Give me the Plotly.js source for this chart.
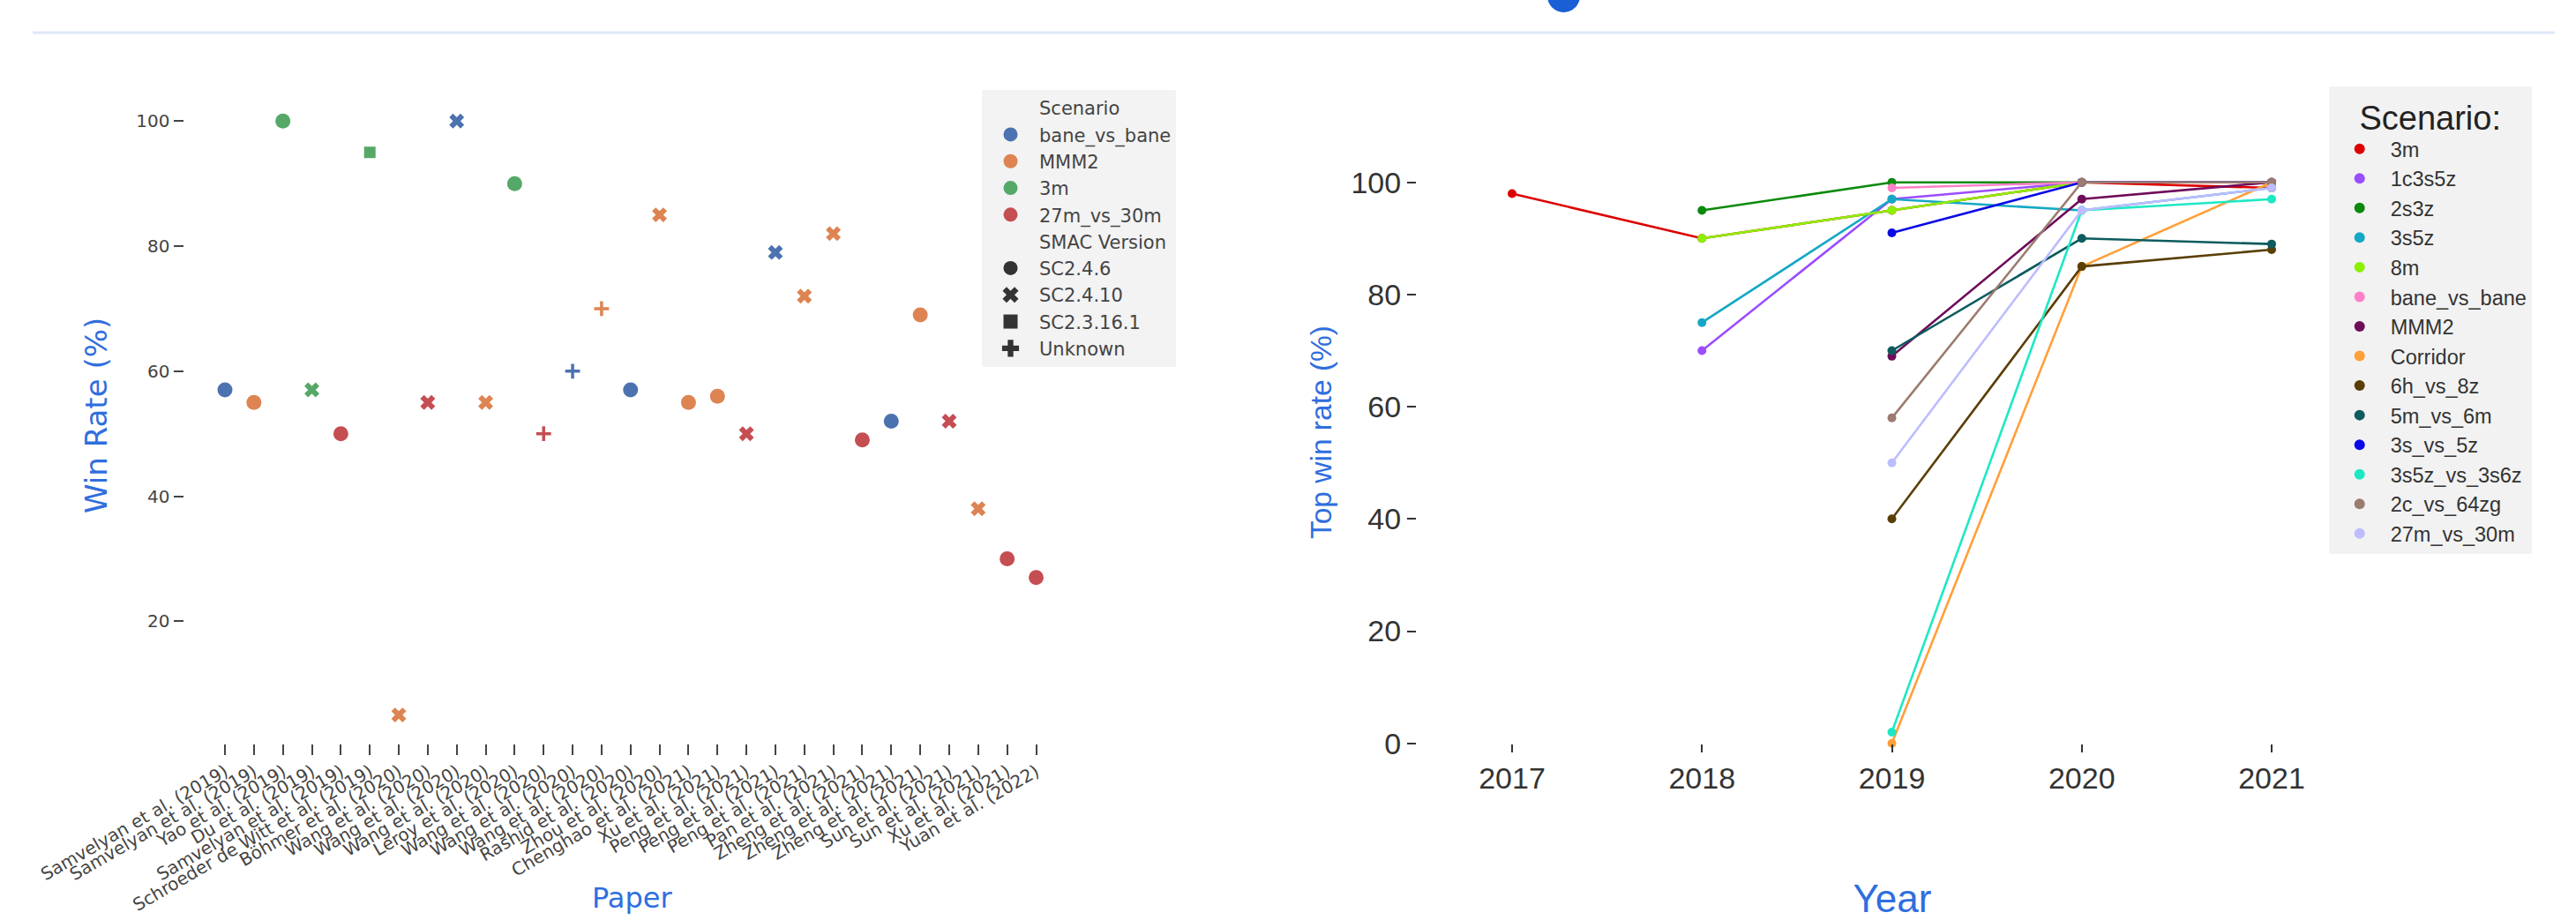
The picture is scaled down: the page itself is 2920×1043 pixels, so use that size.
<!DOCTYPE html>
<html>
<head>
<meta charset="utf-8">
<script src="https://cdn.plot.ly/plotly-3.0.1.min.js"></script>
<style>
  html, body { margin: 0; padding: 0; background: #ffffff; }
  #chart { width: 2920px; height: 1043px; }
</style>
</head>
<body>
<div id="chart"></div>
<script>
// ---------- Left panel: win rate reported by each paper ----------
const papers = [
  'Samvelyan et al. (2019)', 'Samvelyan et al. (2019)', 'Yao et al. (2019)', 'Du et al. (2019)',
  'Samvelyan et al. (2019)', 'Schroeder de Witt et al. (2019)', 'Böhmer et al. (2020)',
  'Wang et al. (2020)', 'Wang et al. (2020)', 'Wang et al. (2020)', 'Leroy et al. (2020)',
  'Wang et al. (2020)', 'Wang et al. (2020)', 'Wang et al. (2020)', 'Rashid et al. (2020)',
  'Zhou et al. (2020)', 'Chenghao et al. (2021)', 'Xu et al. (2021)', 'Peng et al. (2021)',
  'Peng et al. (2021)', 'Peng et al. (2021)', 'Pan et al. (2021)', 'Zheng et al. (2021)',
  'Zheng et al. (2021)', 'Zheng et al. (2021)', 'Sun et al. (2021)', 'Sun et al. (2021)',
  'Xu et al. (2021)', 'Yuan et al. (2022)'
];
const winRates = [57, 55, 100, 57, 50, 95, 5, 55, 100, 55, 90, 50, 60, 70, 57, 85, 55, 56, 50, 79,
                  72, 82, 49, 52, 69, 52, 38, 30, 27];
const paperScenarios = [
  'bane_vs_bane', 'MMM2', '3m', '3m', '27m_vs_30m', '3m', 'MMM2', '27m_vs_30m', 'bane_vs_bane', 'MMM2',
  '3m', '27m_vs_30m', 'bane_vs_bane', 'MMM2', 'bane_vs_bane', 'MMM2', 'MMM2', 'MMM2', '27m_vs_30m',
  'bane_vs_bane', 'MMM2', 'MMM2', '27m_vs_30m', 'bane_vs_bane', 'MMM2', '27m_vs_30m', 'MMM2',
  '27m_vs_30m', '27m_vs_30m'
];
const smacVersions = [
  'SC2.4.6', 'SC2.4.6', 'SC2.4.6', 'SC2.4.10', 'SC2.4.6', 'SC2.3.16.1', 'SC2.4.10', 'SC2.4.10',
  'SC2.4.10', 'SC2.4.10', 'SC2.4.6', 'Unknown', 'Unknown', 'Unknown', 'SC2.4.6', 'SC2.4.10',
  'SC2.4.6', 'SC2.4.6', 'SC2.4.10', 'SC2.4.10', 'SC2.4.10', 'SC2.4.10', 'SC2.4.6', 'SC2.4.6',
  'SC2.4.6', 'SC2.4.10', 'SC2.4.10', 'SC2.4.6', 'SC2.4.6'
];

const scenarioNames  = ['bane_vs_bane', 'MMM2', '3m', '27m_vs_30m'];
const scenarioColors = ['#4c72b0', '#dd8452', '#55a868', '#c44e52'];
const versionNames   = ['SC2.4.6', 'SC2.4.10', 'SC2.3.16.1', 'Unknown'];
const versionSymbols = ['circle', 'x', 'square', 'cross-thin'];
const versionLegendSymbols = ['circle', 'x', 'square', 'cross'];
const versionSizes   = [17, 15, 13, 12];
const leftTicks = [20, 40, 60, 80, 100];

// ---------- Right panel: top win rate per scenario and year ----------
const years = [2017, 2018, 2019, 2020, 2021];
const topScenarios = ['3m', '1c3s5z', '2s3z', '3s5z', '8m', 'bane_vs_bane', 'MMM2', 'Corridor',
                      '6h_vs_8z', '5m_vs_6m', '3s_vs_5z', '3s5z_vs_3s6z', '2c_vs_64zg', '27m_vs_30m'];
const topColors = ['#dd0000', '#9b4dff', '#0a8a0a', '#15a8c5', '#8cf000', '#ff80c8', '#6e0c5a',
                   '#ff9f38', '#5a3f05', '#0d5b5e', '#0a0ae6', '#1ee8c4', '#9c7b70', '#bdbcff'];
const top3m          = [98, 90, 95, 100, 99];
const top1c3s5z      = [null, 70, 97, 100, 100];
const top2s3z        = [null, 95, 100, 100, 100];
const top3s5z        = [null, 75, 97, 95, 99];
const top8m          = [null, 90, 95, 100, 100];
const topBane        = [null, null, 99, 100, 100];
const topMMM2        = [null, null, 69, 97, 100];
const topCorridor    = [null, null, 0, 85, 100];
const top6hvs8z      = [null, null, 40, 85, 88];
const top5mvs6m      = [null, null, 70, 90, 89];
const top3svs5z      = [null, null, 91, 100, 100];
const top3s5zvs3s6z  = [null, null, 2, 95, 97];
const top2cvs64zg    = [null, null, 58, 100, 100];
const top27mvs30m    = [null, null, 50, 95, 99];
const topSeries = [top3m, top1c3s5z, top2s3z, top3s5z, top8m, topBane, topMMM2, topCorridor,
                   top6hvs8z, top5mvs6m, top3svs5z, top3s5zvs3s6z, top2cvs64zg, top27mvs30m];
const rightTicks = [0, 20, 40, 60, 80, 100];

// ---------- page geometry (pixels) ----------
const W = 2920, H = 1043;
const fx = px => px / W;
const fy = py => 1 - py / H;
// value at pixel p for a linear scale passing through (p0, v0) and (p1, v1)
const lin = (p, p0, v0, p1, v1) => v0 + (p - p0) * (v1 - v0) / (p1 - p0);

const LP = { left: 208.5, right: 1223.5, top: 99, bottom: 842.8 };
const RP = { left: 1606, right: 2684, top: 137.3, bottom: 842.7 };
const lxr = [lin(LP.left, 255, 0, 1174.5, 28), lin(LP.right, 255, 0, 1174.5, 28)];
const lyr = [lin(LP.bottom, 137.3, 100, 704.3, 20), lin(LP.top, 137.3, 100, 704.3, 20)];
const rxr = [lin(RP.left, 1714, 2017, 2575, 2021), lin(RP.right, 1714, 2017, 2575, 2021)];
const ryr = [lin(RP.bottom, 206.7, 100, 842.7, 0), lin(RP.top, 206.7, 100, 842.7, 0)];

const BLUE = '#2f6ede';
const LFONT = 'DejaVu Sans';
const RFONT = 'Liberation Sans, Arial, sans-serif';

const traces = [];

// scatter of every paper's result
const pointColors = paperScenarios.map(s => scenarioColors[scenarioNames.indexOf(s)]);
traces.push({
  type: 'scatter', mode: 'markers', xaxis: 'x', yaxis: 'y', showlegend: false, cliponaxis: false,
  x: papers.map((_, i) => i), y: winRates, hoverinfo: 'skip',
  marker: {
    color: pointColors, opacity: 1,
    symbol: smacVersions.map(v => versionSymbols[versionNames.indexOf(v)]),
    size: smacVersions.map(v => versionSizes[versionNames.indexOf(v)]),
    line: { color: pointColors, width: smacVersions.map(v => v === 'Unknown' ? 3.5 : 0) }
  }
});

// legend entries for the left panel
const legendEntry = (name, color, symbol) => ({
  type: 'scatter', mode: 'markers', xaxis: 'x', yaxis: 'y', legend: 'legend',
  x: [null], y: [null], name: name, showlegend: true,
  marker: { color: color, symbol: symbol, size: 16, opacity: 1, line: { width: 0 } }
});
traces.push(legendEntry('Scenario', 'rgba(0,0,0,0)', 'circle'));
scenarioNames.forEach((s, i) => traces.push(legendEntry(s, scenarioColors[i], 'circle')));
traces.push(legendEntry('SMAC Version', 'rgba(0,0,0,0)', 'circle'));
versionNames.forEach((v, i) => traces.push(legendEntry(v, '#333333', versionLegendSymbols[i])));

// lines of the right panel
topScenarios.forEach((s, i) => {
  traces.push({
    type: 'scatter', mode: 'lines+markers', xaxis: 'x2', yaxis: 'y2', showlegend: false,
    cliponaxis: false, x: years, y: topSeries[i], name: s, hoverinfo: 'skip',
    line: { color: topColors[i], width: 2.6 },
    marker: { color: topColors[i], size: 10 }
  });
});
topScenarios.forEach((s, i) => {
  traces.push({
    type: 'scatter', mode: 'markers', xaxis: 'x2', yaxis: 'y2', legend: 'legend2',
    x: [null], y: [null], name: s, showlegend: true,
    marker: { color: topColors[i], size: 12 }
  });
});

const layout = {
  width: W, height: H,
  margin: { l: 0, r: 0, t: 0, b: 0, pad: 0 },
  paper_bgcolor: '#ffffff', plot_bgcolor: '#ffffff',
  font: { family: LFONT, color: '#444444' },
  hovermode: false,
  showlegend: true,
  xaxis: {
    domain: [fx(LP.left), fx(LP.right)], range: lxr, anchor: 'y',
    tickmode: 'array', tickvals: papers.map((_, i) => i), ticktext: papers,
    tickangle: -30, ticks: 'outside', ticklen: 12, tickwidth: 2, tickcolor: '#444444',
    tickfont: { family: LFONT, size: 20, color: '#444444' }, ticklabeloverflow: 'allow',
    showgrid: false, zeroline: false, showline: false, automargin: false
  },
  yaxis: {
    domain: [fy(LP.bottom), fy(LP.top)], range: lyr, anchor: 'x',
    tickmode: 'array', tickvals: leftTicks, ticks: 'outside', ticklen: 11, tickwidth: 2,
    tickcolor: '#444444', tickfont: { family: LFONT, size: 20, color: '#444444' },
    showgrid: false, zeroline: false, showline: false, automargin: false,
    title: { text: 'Win Rate (%)', font: { family: LFONT, size: 34, color: BLUE }, standoff: 22 }
  },
  xaxis2: {
    domain: [fx(RP.left), fx(RP.right)], range: rxr, anchor: 'y2',
    tickmode: 'array', tickvals: years, ticks: 'outside', ticklen: 9, tickwidth: 2,
    tickcolor: '#333333', tickfont: { family: RFONT, size: 34, color: '#333333' },
    showgrid: false, zeroline: false, showline: false, automargin: false,
    title: { text: 'Year', font: { family: RFONT, size: 44, color: BLUE }, standoff: 122 }
  },
  yaxis2: {
    domain: [fy(RP.bottom), fy(RP.top)], range: ryr, anchor: 'x2',
    tickmode: 'array', tickvals: rightTicks, ticks: 'outside', ticklen: 10, tickwidth: 2,
    tickcolor: '#333333', tickfont: { family: RFONT, size: 34, color: '#333333' },
    showgrid: false, zeroline: false, showline: false, automargin: false,
    title: { text: 'Top win rate (%)', font: { family: RFONT, size: 33.5, color: BLUE }, standoff: 11 }
  },
  legend: {
    x: fx(1113), y: fy(102), xanchor: 'left', yanchor: 'top',
    bgcolor: '#f3f3f3', borderwidth: 0, itemwidth: 55, tracegroupgap: 0,
    font: { family: LFONT, size: 21, color: '#444444' }, traceorder: 'normal'
  },
  legend2: {
    x: fx(2639.7), y: fy(97.5), xanchor: 'left', yanchor: 'top',
    bgcolor: '#f2f2f2', borderwidth: 0, itemwidth: 60, tracegroupgap: 0,
    font: { family: RFONT, size: 23.5, color: '#333333' }, traceorder: 'normal',
    title: { text: 'Scenario:', side: 'top center', font: { family: RFONT, size: 38, color: '#222222' } }
  },
  annotations: [{
    text: 'Paper', xref: 'paper', yref: 'paper', x: fx(716), y: fy(1018),
    xanchor: 'center', yanchor: 'middle', showarrow: false,
    font: { family: LFONT, size: 32, color: BLUE }
  }],
  shapes: [
    { type: 'line', xref: 'paper', yref: 'paper', x0: fx(37), x1: fx(2896), y0: fy(37), y1: fy(37),
      line: { color: '#dce8f6', width: 3 } },
    { type: 'circle', xref: 'paper', yref: 'paper', x0: fx(1754), x1: fx(1791), y0: fy(14), y1: fy(-23),
      fillcolor: '#1a5fd6', line: { width: 0 } }
  ]
};

Plotly.newPlot('chart', traces, layout, { staticPlot: true, displayModeBar: false });
</script>
</body>
</html>
